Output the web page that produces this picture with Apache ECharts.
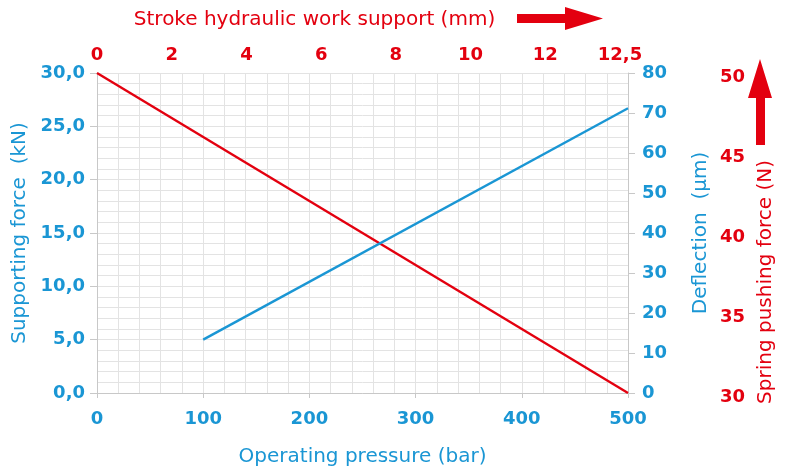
<!DOCTYPE html>
<html>
<head>
<meta charset="utf-8">
<script src="https://cdn.jsdelivr.net/npm/echarts@6/dist/echarts.min.js"></script>
<style>
html,body{margin:0;padding:0;background:#fff;}
#chart{width:789px;height:468px;}
</style>
</head>
<body>
<div id="chart"></div>
<script>
// data
var strokeLabels = ['0', '2', '4', '6', '8', '10', '12', '12,5'];
var redPressure = [0, 500];
var redSpring = [50, 30];
var bluePressure = [100, 500];
var blueForce = [5.0, 26.7];

var BLUE = '#1a96d4';
var RED = '#e3000f';
var GRID = '#e3e3e3';
var AXIS = '#c8c8c8';
var NUM_FONT = '"DejaVu Sans", sans-serif';
var NAME_FONT = '"DejaVu Sans", sans-serif';

var chart = echarts.init(document.getElementById('chart'));

function pairs(xs, ys) {
  return xs.map(function (x, i) { return [x, ys[i]]; });
}

var numLabel = { fontSize: 18, fontWeight: 'bold', fontFamily: NUM_FONT };

chart.setOption({
  animation: false,
  grid: { left: 97, right: 161, top: 73, bottom: 75, containLabel: false, outerBoundsMode: 'none' },
  xAxis: [
    {
      type: 'value', position: 'bottom', min: 0, max: 500, interval: 100,
      axisLine: { show: true, onZero: false, lineStyle: { color: AXIS } },
      axisTick: { show: true, length: 5, lineStyle: { color: AXIS } },
      minorTick: { show: false, splitNumber: 5 },
      splitLine: { show: true, lineStyle: { color: GRID } },
      minorSplitLine: { show: true, lineStyle: { color: GRID } },
      axisLabel: Object.assign({ margin: 17, color: BLUE }, numLabel),
      name: 'Operating pressure (bar)', nameLocation: 'middle', nameGap: 54,
      nameTextStyle: { color: BLUE, fontSize: 20, fontFamily: NAME_FONT }
    },
    {
      // top axis: labels sit evenly spaced, not on a linear mm scale
      type: 'value', position: 'top', min: 0, max: 7.107, interval: 1,
      axisLine: { show: true, onZero: false, lineStyle: { color: GRID } },
      axisTick: { show: false },
      splitLine: { show: false },
      axisLabel: Object.assign({
        margin: 9, color: RED, showMaxLabel: true,
        formatter: function (v) {
          return Math.abs(v - Math.round(v)) < 1e-6 ? (strokeLabels[Math.round(v)] || '') : '';
        }
      }, numLabel),
      name: 'Stroke hydraulic work support (mm)', nameLocation: 'middle', nameGap: 43,
      nameTextStyle: { color: RED, fontSize: 20, fontFamily: NAME_FONT, padding: [0, 96, 0, 0] }
    }
  ],
  yAxis: [
    {
      type: 'value', position: 'left', min: 0, max: 30, interval: 5,
      axisLine: { show: true, onZero: false, lineStyle: { color: AXIS } },
      axisTick: { show: true, length: 7, lineStyle: { color: AXIS } },
      minorTick: { show: false, splitNumber: 5 },
      splitLine: { show: true, lineStyle: { color: GRID } },
      minorSplitLine: { show: true, lineStyle: { color: GRID } },
      axisLabel: Object.assign({
        margin: 12, color: BLUE,
        formatter: function (v) { return v.toFixed(1).replace('.', ','); }
      }, numLabel),
      name: 'Supporting force  (kN)', nameLocation: 'middle', nameGap: 65, nameRotate: 90,
      nameTextStyle: { color: BLUE, fontSize: 20, fontFamily: NAME_FONT }
    },
    {
      type: 'value', position: 'right', min: 0, max: 80, interval: 10,
      axisLine: { show: true, onZero: false, lineStyle: { color: AXIS } },
      axisTick: { show: true, length: 7, lineStyle: { color: AXIS } },
      splitLine: { show: false },
      axisLabel: Object.assign({ margin: 14, color: BLUE }, numLabel),
      name: 'Deflection  (\u03bcm)', nameLocation: 'middle', nameGap: 63, nameRotate: 90,
      nameTextStyle: { color: BLUE, fontSize: 20, fontFamily: NAME_FONT }
    },
    {
      type: 'value', position: 'right', offset: 85, min: 30, max: 50, interval: 5,
      axisLine: { show: false, onZero: false },
      axisTick: { show: false },
      splitLine: { show: false },
      axisLabel: Object.assign({
        margin: 7, color: RED,
        formatter: function (v) { return '{s|' + v + '}'; },
        rich: { s: { fontSize: 18, fontWeight: 'bold', fontFamily: NUM_FONT, color: RED, padding: [8, 0, 0, 0] } }
      }, numLabel),
      name: 'Spring pushing force (N)', nameLocation: 'middle', nameGap: 42, nameRotate: 90,
      nameTextStyle: { color: RED, fontSize: 20, fontFamily: NAME_FONT, padding: [0, 98, 0, 0] }
    }
  ],
  series: [
    {
      name: 'Spring pushing force', type: 'line', xAxisIndex: 0, yAxisIndex: 2,
      data: pairs(redPressure, redSpring),
      symbol: 'none', lineStyle: { color: RED, width: 2.4 }
    },
    {
      name: 'Supporting force', type: 'line', xAxisIndex: 0, yAxisIndex: 0,
      data: pairs(bluePressure, blueForce),
      symbol: 'none', lineStyle: { color: BLUE, width: 2.4 }
    }
  ],
  graphic: [
    {
      // arrow after the top axis name
      type: 'polygon', silent: true,
      shape: { points: [[517, 14], [565, 14], [565, 7], [603, 18.5], [565, 30], [565, 23], [517, 23]] },
      style: { fill: RED }
    },
    {
      // arrow above the spring force name
      type: 'polygon', silent: true,
      shape: { points: [[756, 145], [756, 98], [748, 98], [760, 59], [772, 98], [765, 98], [765, 145]] },
      style: { fill: RED }
    }
  ]
});
</script>
</body>
</html>
